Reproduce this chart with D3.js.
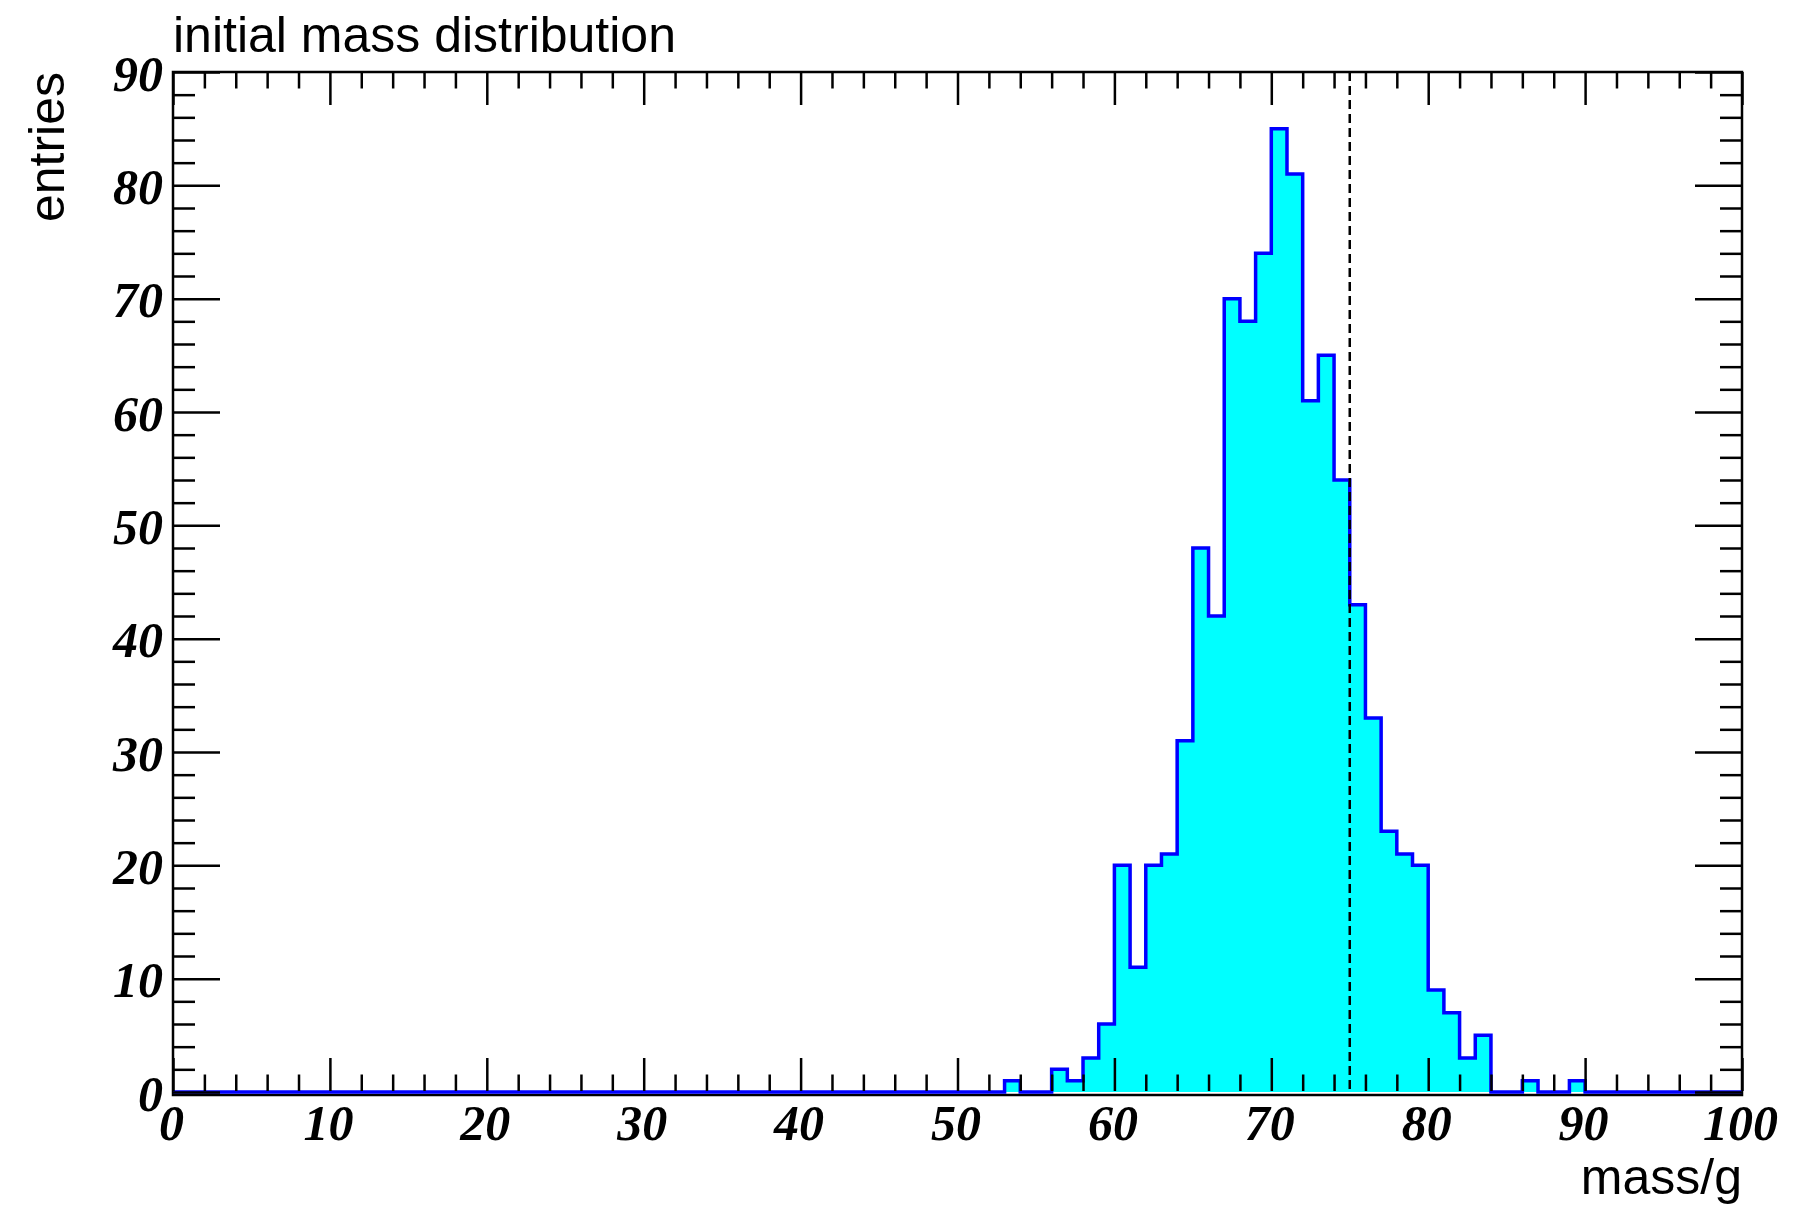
<!DOCTYPE html>
<html>
<head>
<meta charset="utf-8">
<script src="https://cdn.jsdelivr.net/npm/d3@7"></script>
<style>
  body { margin: 0; background: #fff; }
  svg { display: block; }
</style>
</head>
<body>
<svg width="1804" height="1206"></svg>
<script>
// histogram bins (lower edge, width 1 g) and their entries
var binLow  = [53, 54, 55, 56, 57, 58, 59, 60, 61, 62, 63, 64, 65, 66, 67, 68, 69, 70, 71,
               72, 73, 74, 75, 76, 77, 78, 79, 80, 81, 82, 83, 84, 85, 86, 87, 88, 89];
var entries = [1, 0, 0, 2, 1, 3, 6, 20, 11, 20, 21, 31, 48, 42, 70, 68, 74, 85, 81,
               61, 65, 54, 43, 33, 23, 21, 20, 9, 7, 3, 5, 0, 0, 1, 0, 0, 1];
var xRange = [0, 100];
var yRange = [0, 90];
var xMajor = [0, 10, 20, 30, 40, 50, 60, 70, 80, 90, 100];
var yMajor = [0, 10, 20, 30, 40, 50, 60, 70, 80, 90];
var cutMass = 75; // dashed line

var svg = d3.select("svg");
// frame edges (don't call these top/left: window.top is taken)
var frameL = 173, frameR = 1742, frameT = 72, frameB = 1092;

var x = d3.scaleLinear().domain(xRange).range([frameL, frameR]);
var y = d3.scaleLinear().domain(yRange).range([frameB, frameT]);

// full list of 100 bins, empty where nothing was read
var counts = d3.range(xRange[0], xRange[1]).map(function(b){
    var i = binLow.indexOf(b);
    return i < 0 ? 0 : entries[i];
});

var xMinor = d3.range(0, 101, 2).filter(function(v){ return v % 10 != 0; });
var yMinor = d3.range(0, 91, 2).filter(function(v){ return v % 10 != 0; });

// step outline of the histogram
var pts = [[x(0), y(0)]];
counts.forEach(function(c, i){
    pts.push([x(i), y(c)]);
    pts.push([x(i + 1), y(c)]);
});
pts.push([x(100), y(0)]);

svg.append("path")
    .attr("d", d3.line()(pts) + "Z")
    .style("fill", "#00ffff")
    .style("stroke", "none");

// frame (bottom edge sits just under the blue zero line)
svg.append("rect")
    .attr("x", frameL).attr("y", frameT)
    .attr("width", frameR - frameL).attr("height", frameB + 3 - frameT)
    .style("fill", "none")
    .style("stroke", "#000")
    .style("stroke-width", 2.5);

svg.append("path")
    .attr("d", d3.line()(pts))
    .style("fill", "none")
    .style("stroke", "#0000ff")
    .style("stroke-width", 3.5);

// dashed cut line
svg.append("line")
    .attr("x1", x(cutMass)).attr("x2", x(cutMass))
    .attr("y1", y(90)).attr("y2", y(0))
    .style("stroke", "#000")
    .style("stroke-width", 2.5)
    .style("stroke-dasharray", "9,5");

// ticks on all four sides, pointing inwards
var tickAxis = function(axis, vals, size, tx, ty){
    var g = svg.append("g")
        .attr("transform", "translate(" + tx + "," + ty + ")")
        .call(axis.tickValues(vals).tickSize(size).tickFormat(""));
    g.select(".domain").remove();
    g.selectAll("line").style("stroke", "#000").style("stroke-width", 2.5);
};
tickAxis(d3.axisBottom(x), xMajor, -33, 0, frameB - 1);
tickAxis(d3.axisBottom(x), xMinor, -16.5, 0, frameB - 1);
tickAxis(d3.axisTop(x), xMajor, -33, 0, frameT);
tickAxis(d3.axisTop(x), xMinor, -16.5, 0, frameT);
tickAxis(d3.axisLeft(y), yMajor, -47, frameL, 0);
tickAxis(d3.axisLeft(y), yMinor, -22, frameL, 0);
tickAxis(d3.axisRight(y), yMajor, -47, frameR, 0);
tickAxis(d3.axisRight(y), yMinor, -22, frameR, 0);

// tick labels
var labelAxis = function(axis, vals, tx, ty, pad){
    var g = svg.append("g")
        .attr("transform", "translate(" + tx + "," + ty + ")")
        .call(axis.tickValues(vals).tickSize(0).tickPadding(pad).tickFormat(d3.format("d")));
    g.select(".domain").remove();
    g.selectAll("text")
        .style("font-family", "'Liberation Serif', 'DejaVu Serif', serif")
        .style("font-weight", "bold")
        .style("font-style", "italic")
        .style("font-size", "50px")
        .style("fill", "#000");
    return g;
};
labelAxis(d3.axisBottom(x), xMajor, -2, frameB + 1, 11);
labelAxis(d3.axisLeft(y), yMajor, frameL, 2, 10);

// titles
var sans = "'Liberation Sans', Arial, Helvetica, sans-serif";
svg.append("text")
    .attr("x", frameL).attr("y", 52)
    .style("font-family", sans).style("font-size", "50px")
    .text("initial mass distribution");

svg.append("text")
    .attr("x", frameR).attr("y", 1194)
    .attr("text-anchor", "end")
    .style("font-family", sans).style("font-size", "50px")
    .text("mass/g");

svg.append("text")
    .attr("transform", "translate(64," + frameT + ") rotate(-90)")
    .attr("text-anchor", "end")
    .style("font-family", sans).style("font-size", "50px")
    .text("entries");
</script>
</body>
</html>
